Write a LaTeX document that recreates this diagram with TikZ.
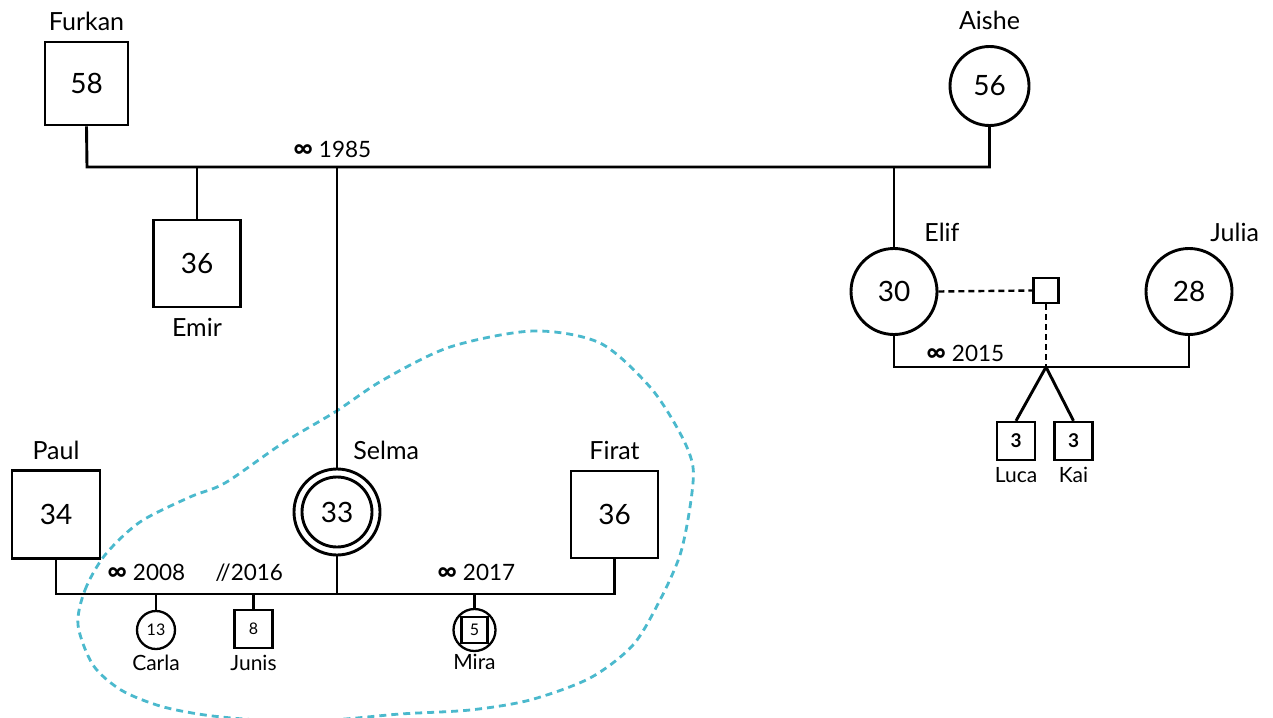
\documentclass[tikz,border=0pt]{standalone}
\usepackage{fontspec}
\setmainfont{Lato}
\definecolor{blobcyan}{RGB}{75,185,205}
\newcommand{\agefont}{\fontsize{28}{32}\selectfont}
\newcommand{\namefont}{\fontsize{25}{30}\selectfont}
\newcommand{\kidname}{\fontsize{21}{25}\selectfont}
\newcommand{\kidage}{\fontsize{16}{19}\selectfont}
\newcommand{\unionfont}{\fontsize{22.5}{27}\selectfont}
\newcommand{\wed}{{\fontsize{27}{27}\selectfont\bfseries ∞}}
\begin{document}
\begin{tikzpicture}[x=1pt, y=-1pt, line width=2.9pt,
    male/.style={draw, rectangle, minimum size=#1, inner sep=0pt, font=\agefont},
    male/.default=86,
    female/.style={draw, circle, minimum size=#1, inner sep=0pt, font=\agefont},
    female/.default=86,
    kid/.style={font=\kidage, line width=2.3pt},
    union/.style={anchor=base west, inner sep=0pt, font=\unionfont},
    every label/.style={inner sep=0pt, font=\namefont},
    kidlabel/.style={font=\kidname},
    donorline/.style={line width=2.4pt, dash pattern=on 6pt off 4pt},
    focus/.style={blobcyan, line width=2.8pt, dash pattern=on 7pt off 5pt}]
    \useasboundingbox (0,0) rectangle (1273,717);

    % Focus group outline
    \draw[focus] plot[smooth cycle] coordinates {(78,625) (85,590) (105,555) (140,522)
        (190,497) (225,483) (283,443) (335,412) (383,380) (450,347) (533,331) (600,343)
        (650,387) (680,433) (693,467) (690,507) (680,555) (660,600) (633,645) (590,678)
        (530,700) (470,710) (400,714) (330,720) (260,720) (205,715) (160,706) (121,690)
        (93,665)};

    % Grandparents
    \node[male=83, label={[label distance=8]above:Furkan}] (furkan) at (86.5,83.5) {58};
    \node[female=79, label={[label distance=14]above:Aishe}] (aishe) at (989.5,86) {56};

    % Their children
    \node[male=87, label={[label distance=8]below:Emir}] (emir) at (197,263.5) {36};
    \node[female, label={[anchor=south west, xshift=15, label distance=6]north:Selma}] (selma) at (337,512) {33};
    \draw (selma.center) circle (35);
    \node[female, label={[anchor=south west, xshift=29, label distance=4]north:Elif}] (elif) at (894,291.5) {30};

    % Partners
    \node[male=88, label={[label distance=8]above:Paul}] (paul) at (56,514.5) {34};
    \node[male=87, label={[label distance=8]above:Firat}] (firat) at (614.5,514.5) {36};
    \node[female, label={[anchor=south west, xshift=20, label distance=4]north:Julia}] (julia) at (1189,291.5) {28};
    \node[male=25, line width=2.3pt] (donor) at (1046,290.5) {};

    % Grandchildren
    \node[female=38, kid, label={[kidlabel, label distance=3]below:Carla}] (carla) at (156,630) {13};
    \node[male=38, kid, label={[kidlabel, label distance=5]below:Junis}] (junis) at (253.5,629) {8};
    \node[female=42, kid, label={[kidlabel, label distance=1]below:Mira}] (mira) at (474.5,630) {};
    \node[male=26, kid] (miraBox) at (mira) {5};
    \node[male=38, kid, font=\fontsize{19}{22}\selectfont\bfseries, label={[kidlabel, label distance=5]below:Luca}] (luca) at (1016,441) {3};
    \node[male=38, kid, font=\fontsize{19}{22}\selectfont\bfseries, label={[kidlabel, label distance=5]below:Kai}] (kai) at (1073.5,441) {3};

    % Union lines
    \coordinate (U1) at (87,167);
    \coordinate (U2) at (1046,367);
    \coordinate (U3) at (338,594);
    \draw (furkan.south) -- (U1) -| (aishe.south);
    \draw (emir) -- (emir |- U1);
    \draw (selma) -- (selma |- U1);
    \draw (elif) -- (elif |- U1);
    \draw (elif.south) -- (elif |- U2) -| (julia.south);
    \draw (paul.south) |- (U3) -| (firat.south);
    \draw (selma.south) -- (selma |- U3);

    % Descent lines
    \draw[line width=2.3pt] (carla) -- (carla |- U3);
    \draw[line width=2.3pt] (junis) -- (junis |- U3);
    \draw[line width=2.3pt] (mira) -- (mira |- U3);
    \draw (U2) -- (luca.north);
    \draw (U2) -- (kai.north);
    \draw[donorline] (elif.east) -- (donor.west);
    \draw[donorline] (donor.south) -- (U2);

    % Union labels
    \node[union] (y1985) at (292,157) {\wed\ 1985};
    \node[union] (y2008) at (106,580) {\wed\ 2008};
    \node[union] (y2016) at (214,580) {//2016};
    \node[union] (y2017) at (436,580) {\wed\ 2017};
    \node[union] (y2015) at (925,361) {\wed\ 2015};
\end{tikzpicture}
\end{document}
